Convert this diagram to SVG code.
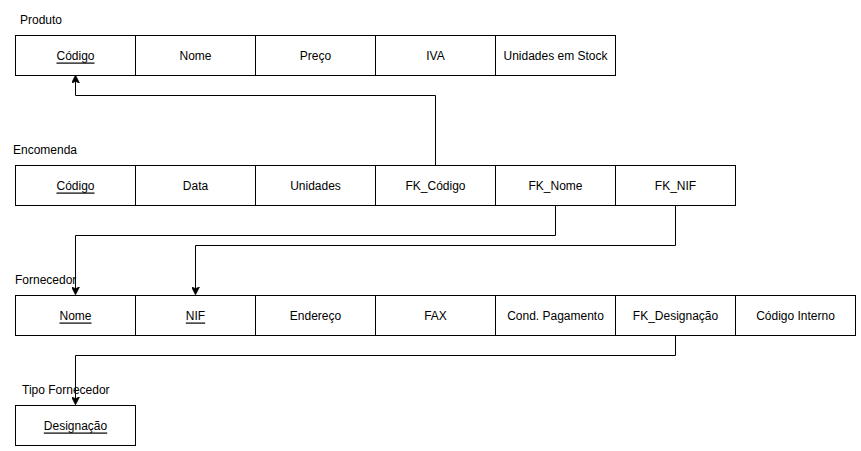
<svg xmlns="http://www.w3.org/2000/svg" width="861" height="451" viewBox="0 0 861 451">
<style>
.c{fill:#fff;stroke:#000;stroke-width:1}
.t{font-family:"Liberation Sans",Arial,sans-serif;font-size:12px;fill:#000}
.m{text-anchor:middle;dominant-baseline:central}
.u{text-decoration:underline}
.e{fill:none;stroke:#000;stroke-width:1}
</style>
<defs>
<marker id="a" viewBox="0 0 10 10" refX="9" refY="5" markerWidth="8" markerHeight="8" markerUnits="userSpaceOnUse" orient="auto">
<path d="M0,0 L10,5 L0,10 L2.5,5 Z" fill="#000" stroke="#000" stroke-width="1"/>
</marker>
</defs>
<rect width="861" height="451" fill="#fff"/>
<g id="connectors">
<path class="e" d="M435.5,165 V95.5 H75.5 V76" marker-end="url(#a)"/>
<path class="e" d="M555.5,205 V235.5 H75.5 V294" marker-end="url(#a)"/>
<path class="e" d="M675.5,205 V245.5 H195.5 V294" marker-end="url(#a)"/>
<path class="e" d="M675.5,335 V355.5 H75.5 V404" marker-end="url(#a)"/>
</g>
<g id="produto">
<text class="t" x="20" y="24">Produto</text>
<rect class="c" x="15.5" y="35.5" width="120" height="40"/>
<text class="t m u" x="75.5" y="55.5">Código</text>
<rect class="c" x="135.5" y="35.5" width="120" height="40"/>
<text class="t m" x="195.5" y="55.5">Nome</text>
<rect class="c" x="255.5" y="35.5" width="120" height="40"/>
<text class="t m" x="315.5" y="55.5">Preço</text>
<rect class="c" x="375.5" y="35.5" width="120" height="40"/>
<text class="t m" x="435.5" y="55.5">IVA</text>
<rect class="c" x="495.5" y="35.5" width="120" height="40"/>
<text class="t m" x="555.5" y="55.5">Unidades em Stock</text>
</g>
<g id="encomenda">
<text class="t" x="13" y="154">Encomenda</text>
<rect class="c" x="15.5" y="165.5" width="120" height="40"/>
<text class="t m u" x="75.5" y="185.5">Código</text>
<rect class="c" x="135.5" y="165.5" width="120" height="40"/>
<text class="t m" x="195.5" y="185.5">Data</text>
<rect class="c" x="255.5" y="165.5" width="120" height="40"/>
<text class="t m" x="315.5" y="185.5">Unidades</text>
<rect class="c" x="375.5" y="165.5" width="120" height="40"/>
<text class="t m" x="435.5" y="185.5">FK_Código</text>
<rect class="c" x="495.5" y="165.5" width="120" height="40"/>
<text class="t m" x="555.5" y="185.5">FK_Nome</text>
<rect class="c" x="615.5" y="165.5" width="120" height="40"/>
<text class="t m" x="675.5" y="185.5">FK_NIF</text>
</g>
<g id="fornecedor">
<text class="t" x="15" y="284">Fornecedor</text>
<rect class="c" x="15.5" y="295.5" width="120" height="40"/>
<text class="t m u" x="75.5" y="315.5">Nome</text>
<rect class="c" x="135.5" y="295.5" width="120" height="40"/>
<text class="t m u" x="195.5" y="315.5">NIF</text>
<rect class="c" x="255.5" y="295.5" width="120" height="40"/>
<text class="t m" x="315.5" y="315.5">Endereço</text>
<rect class="c" x="375.5" y="295.5" width="120" height="40"/>
<text class="t m" x="435.5" y="315.5">FAX</text>
<rect class="c" x="495.5" y="295.5" width="120" height="40"/>
<text class="t m" x="555.5" y="315.5">Cond. Pagamento</text>
<rect class="c" x="615.5" y="295.5" width="120" height="40"/>
<text class="t m" x="675.5" y="315.5">FK_Designação</text>
<rect class="c" x="735.5" y="295.5" width="120" height="40"/>
<text class="t m" x="795.5" y="315.5">Código Interno</text>
</g>
<g id="tipo-fornecedor">
<text class="t" x="22" y="394">Tipo Fornecedor</text>
<rect class="c" x="15.5" y="405.5" width="120" height="40"/>
<text class="t m u" x="75.5" y="425.5">Designação</text>
</g>
</svg>
